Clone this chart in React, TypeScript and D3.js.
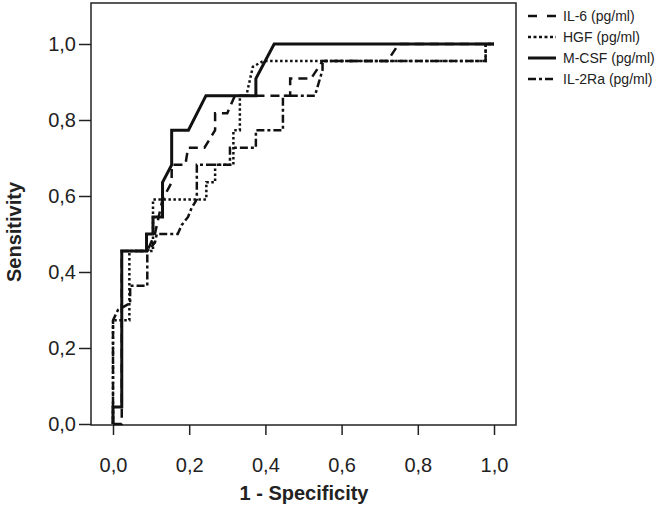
import React, { useEffect, useRef } from "react";
import * as d3 from "d3";

// ROC curves, [1 - specificity, sensitivity]
const il6 = [
  [0, 0], [0.023, 0], [0.023, 0.455], [0.09, 0.455], [0.11, 0.5], [0.13, 0.591],
  [0.154, 0.636], [0.154, 0.682], [0.19, 0.682], [0.197, 0.727], [0.24, 0.727],
  [0.268, 0.773], [0.268, 0.818], [0.3, 0.818], [0.32, 0.864], [0.465, 0.864],
  [0.465, 0.909], [0.52, 0.909], [0.55, 0.955], [0.72, 0.955], [0.75, 1], [1, 1],
];
const hgf = [
  [0, 0], [0, 0.273], [0.043, 0.273], [0.043, 0.455], [0.105, 0.455], [0.105, 0.591],
  [0.245, 0.591], [0.245, 0.636], [0.268, 0.636], [0.268, 0.682], [0.316, 0.682],
  [0.316, 0.773], [0.333, 0.773], [0.333, 0.864], [0.35, 0.864], [0.367, 0.94],
  [0.394, 0.955], [0.978, 0.955], [0.978, 1], [1, 1],
];
const mcsf = [
  [0, 0], [0, 0.045], [0.023, 0.045], [0.023, 0.455], [0.088, 0.455], [0.088, 0.5],
  [0.105, 0.5], [0.105, 0.545], [0.13, 0.545], [0.13, 0.636], [0.154, 0.682],
  [0.154, 0.773], [0.198, 0.773], [0.244, 0.864], [0.375, 0.864], [0.375, 0.909],
  [0.423, 1], [1, 1],
];
const il2ra = [
  [0, 0], [0, 0.273], [0.013, 0.3], [0.045, 0.318], [0.045, 0.364], [0.09, 0.364],
  [0.09, 0.455], [0.11, 0.477], [0.115, 0.5], [0.17, 0.5], [0.18, 0.523],
  [0.197, 0.545], [0.206, 0.568], [0.22, 0.591], [0.22, 0.682], [0.307, 0.682],
  [0.307, 0.727], [0.375, 0.727], [0.375, 0.773], [0.446, 0.773], [0.446, 0.864],
  [0.53, 0.864], [0.55, 0.932], [0.55, 0.955], [0.978, 0.955], [0.978, 1], [1, 1],
];

const seriesNames = ["IL-6 (pg/ml)", "HGF (pg/ml)", "M-CSF (pg/ml)", "IL-2Ra (pg/ml)"];
const tickValues = [0, 0.2, 0.4, 0.6, 0.8, 1.0];

const styles = [
  { width: 2.5, dash: "9,6", legendDash: "9,10" },
  { width: 2.5, dash: "2.5,2.5", legendDash: "3,2.5" },
  { width: 3, dash: null, legendDash: null },
  { width: 2.5, dash: "8,3,3,3", legendDash: "8,3,3,3" },
];

const App = () => {
  const svgRef = useRef(null);

  useEffect(() => {
    const svg = d3.select(svgRef.current);
    svg.selectAll("*").remove();

    const x = d3.scaleLinear().domain([0, 1]).range([113, 494]);
    const y = d3.scaleLinear().domain([0, 1]).range([424, 44]);
    const fmt = (d) => d3.format(".1f")(d).replace(".", ",");
    const font = "Liberation Sans, Arial, sans-serif";

    // frame
    svg
      .append("rect")
      .attr("x", 91)
      .attr("y", 3)
      .attr("width", 516 - 91)
      .attr("height", 425 - 3)
      .attr("fill", "none")
      .attr("stroke", "#222")
      .attr("stroke-width", 1.5);

    // x axis
    const xAxis = svg
      .append("g")
      .attr("transform", "translate(0,425)")
      .call(d3.axisBottom(x).tickValues(tickValues).tickFormat(fmt).tickSize(10).tickSizeOuter(0));
    xAxis.select(".domain").remove();
    xAxis.selectAll("line").attr("stroke", "#222").attr("stroke-width", 1.5);
    xAxis
      .selectAll("text")
      .attr("font-family", font)
      .attr("font-size", 20)
      .attr("fill", "#222")
      .attr("dy", "1.7em");

    // y axis
    const yAxis = svg
      .append("g")
      .attr("transform", "translate(91,0)")
      .call(d3.axisLeft(y).tickValues(tickValues).tickFormat(fmt).tickSize(12).tickSizeOuter(0));
    yAxis.select(".domain").remove();
    yAxis.selectAll("line").attr("stroke", "#222").attr("stroke-width", 1.5);
    yAxis
      .selectAll("text")
      .attr("font-family", font)
      .attr("font-size", 20)
      .attr("fill", "#222")
      .attr("x", -15);

    // axis titles
    svg
      .append("text")
      .attr("x", 304)
      .attr("y", 500)
      .attr("text-anchor", "middle")
      .attr("font-family", font)
      .attr("font-weight", "bold")
      .attr("font-size", 20)
      .attr("fill", "#222")
      .text("1 - Specificity");

    svg
      .append("text")
      .attr("transform", "translate(21,232) rotate(-90)")
      .attr("text-anchor", "middle")
      .attr("font-family", font)
      .attr("font-weight", "bold")
      .attr("font-size", 20)
      .attr("fill", "#222")
      .text("Sensitivity");

    // curves
    const line = d3
      .line()
      .x((d) => x(d[0]))
      .y((d) => y(d[1]));

    const curves = [il6, hgf, mcsf, il2ra];
    curves.forEach((pts, i) => {
      svg
        .append("path")
        .datum(pts)
        .attr("d", line)
        .attr("fill", "none")
        .attr("stroke", "#111")
        .attr("stroke-width", styles[i].width)
        .attr("stroke-dasharray", styles[i].dash)
        .attr("stroke-linejoin", "miter");
    });

    // legend
    const legend = svg.append("g").attr("transform", "translate(528,16)");
    seriesNames.forEach((name, i) => {
      const g = legend.append("g").attr("transform", `translate(0,${i * 21})`);
      g.append("line")
        .attr("x1", 0)
        .attr("x2", 28)
        .attr("y1", 0)
        .attr("y2", 0)
        .attr("stroke", "#111")
        .attr("stroke-width", styles[i].width)
        .attr("stroke-dasharray", styles[i].legendDash);
      g.append("text")
        .attr("x", 35)
        .attr("y", 0)
        .attr("dy", "0.35em")
        .attr("font-family", font)
        .attr("font-size", 14)
        .attr("fill", "#222")
        .text(name);
    });
  }, []);

  return (
    <svg
      ref={svgRef}
      width={661}
      height={507}
      style={{ position: "absolute", left: 0, top: 0, background: "#fff" }}
    />
  );
};

export default App;
